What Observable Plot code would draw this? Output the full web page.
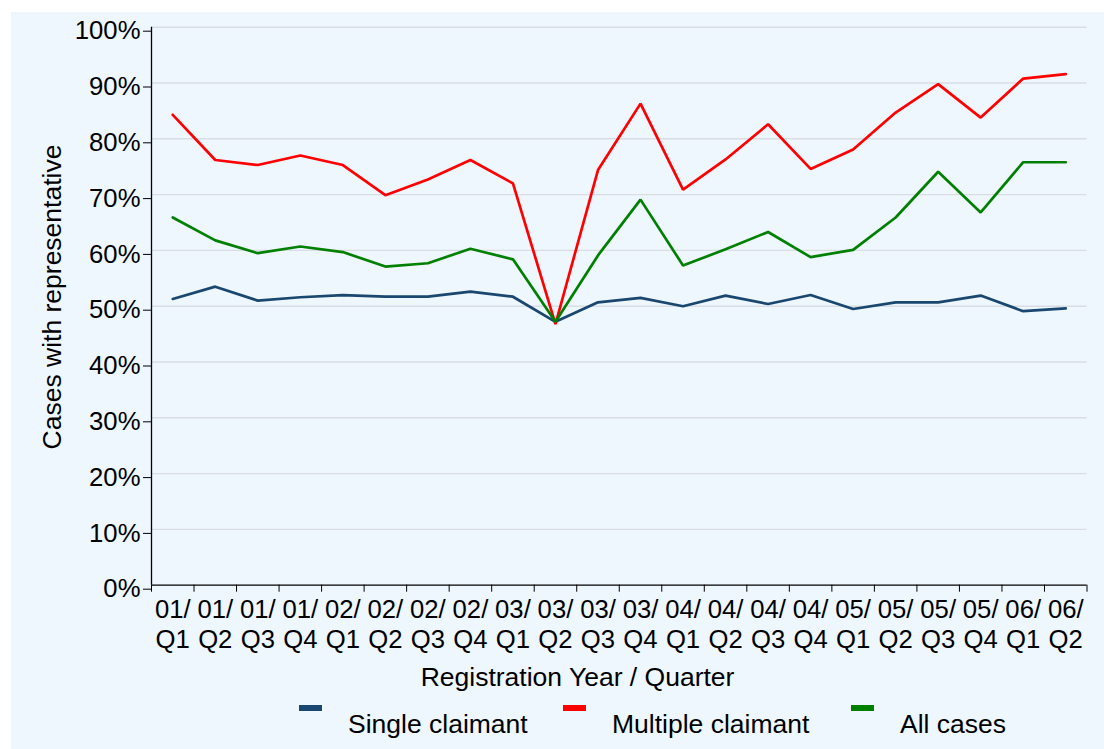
<!DOCTYPE html>
<html>
<head>
<meta charset="utf-8">
<script src="https://cdn.jsdelivr.net/npm/d3@7"></script>
<script src="https://cdn.jsdelivr.net/npm/@observablehq/plot@0.6"></script>
<style>
  html, body { margin: 0; padding: 0; background: #ffffff; overflow: hidden; }
  #wrap { position: absolute; left: 11px; top: 12px; width: 1093px; height: 737px; background: #eef6fe; }
  #chart svg { display: block; }
  .sw { position: absolute; width: 23px; height: 6px; }
  .lt { position: absolute; font-family: "Liberation Sans", Arial, sans-serif; font-size: 26.5px; line-height: 1; color: #000; white-space: nowrap; }
</style>
</head>
<body>
<div id="wrap">
  <div id="chart"></div>
  <div id="legend"></div>
</div>
<script>
const quarters = ["01/\nQ1","01/\nQ2","01/\nQ3","01/\nQ4","02/\nQ1","02/\nQ2","02/\nQ3","02/\nQ4",
  "03/\nQ1","03/\nQ2","03/\nQ3","03/\nQ4","04/\nQ1","04/\nQ2","04/\nQ3","04/\nQ4",
  "05/\nQ1","05/\nQ2","05/\nQ3","05/\nQ4","06/\nQ1","06/\nQ2"];
const singleClaimant   = [51.3,53.5,51.0,51.6,52.0,51.7,51.7,52.6,51.7,47.2,50.7,51.5,50.0,51.9,50.4,52.0,49.5,50.7,50.7,51.9,49.1,49.6];
const multipleClaimant = [84.3,76.2,75.3,77.0,75.3,69.9,72.7,76.2,72.0,46.8,74.4,86.3,70.9,76.3,82.6,74.6,78.1,84.7,89.8,83.8,90.8,91.6];
const allCases         = [65.9,61.8,59.5,60.7,59.7,57.1,57.7,60.3,58.4,47.2,59.1,69.1,57.3,60.2,63.3,58.8,60.1,65.9,74.1,66.8,75.8,75.8];
const seriesNames  = ["Single claimant", "Multiple claimant", "All cases"];
const seriesColors = ["#1a476f", "#ff0000", "#008000"];
const yTicks = [0,10,20,30,40,50,60,70,80,90,100];
const xTitle = "Registration Year / Quarter";
const yTitle = "Cases with representative";

const seriesValues = [singleClaimant, multipleClaimant, allCases];
const rows = [];
seriesNames.forEach((name, s) => {
  seriesValues[s].forEach((v, i) => rows.push({pos: i + 0.5, value: v, series: name}));
});

const font = "'Liberation Sans', Arial, sans-serif";
const boundaries = d3.range(0, quarters.length + 1);
const centers = quarters.map((q, i) => i + 0.5);

const chart = Plot.plot({
  width: 1093,
  height: 700,
  marginLeft: 140,
  marginRight: 17.5,
  marginTop: 14.7,
  marginBottom: 127.3,
  style: {fontFamily: font, background: "transparent", color: "#000", overflow: "visible"},
  x: {type: "linear", domain: [0, quarters.length], axis: null, label: null},
  y: {domain: [0, 100], axis: null, label: null},
  color: {domain: seriesNames, range: seriesColors},
  marks: [
    Plot.gridY(yTicks.filter(d => d > 0), {stroke: "#d9dee5", strokeOpacity: 1, strokeWidth: 1.4}),
    Plot.axisY(yTicks, {anchor: "left", tickSize: 8, tickPadding: 3, tickFormat: d => d + "%", fontSize: 25.7, dy: 4, label: null, stroke: "#000"}),
    Plot.axisX(boundaries, {anchor: "bottom", tickSize: 7, tickFormat: () => "", label: null, stroke: "#000"}),
    Plot.axisX(centers, {anchor: "bottom", tickSize: 0, tickPadding: 12, tickFormat: d => quarters[Math.floor(d)], fontSize: 25.7, lineHeight: 1.16, label: null}),
    Plot.ruleY([0], {stroke: "#000", strokeWidth: 1.3}),
    Plot.ruleX([0], {stroke: "#000", strokeWidth: 1.3}),
    Plot.line(rows, {x: "pos", y: "value", z: "series", stroke: "series", strokeWidth: 2.7, strokeLinejoin: "miter"}),
    Plot.text([xTitle], {frameAnchor: "bottom", text: d => d, textAnchor: "middle", fontSize: 26.5, lineAnchor: "bottom", dx: -41.75, dy: 101, fill: "#000"}),
    Plot.text([yTitle], {frameAnchor: "left", text: d => d, textAnchor: "middle", fontSize: 26.5, rotate: -90, lineAnchor: "bottom", dx: -90.5, dy: -9.2, fill: "#000"})
  ]
});
document.getElementById("chart").appendChild(chart);

const legendPos = [[288, 337], [552, 601], [840, 889]];
const legend = document.getElementById("legend");
seriesNames.forEach((name, i) => {
  const sw = document.createElement("div");
  sw.className = "sw";
  sw.style.left = legendPos[i][0] + "px";
  sw.style.top = "693px";
  sw.style.background = seriesColors[i];
  legend.appendChild(sw);
  const t = document.createElement("div");
  t.className = "lt";
  t.style.left = legendPos[i][1] + "px";
  t.style.top = "698.6px";
  t.textContent = name;
  legend.appendChild(t);
});
</script>
</body>
</html>
